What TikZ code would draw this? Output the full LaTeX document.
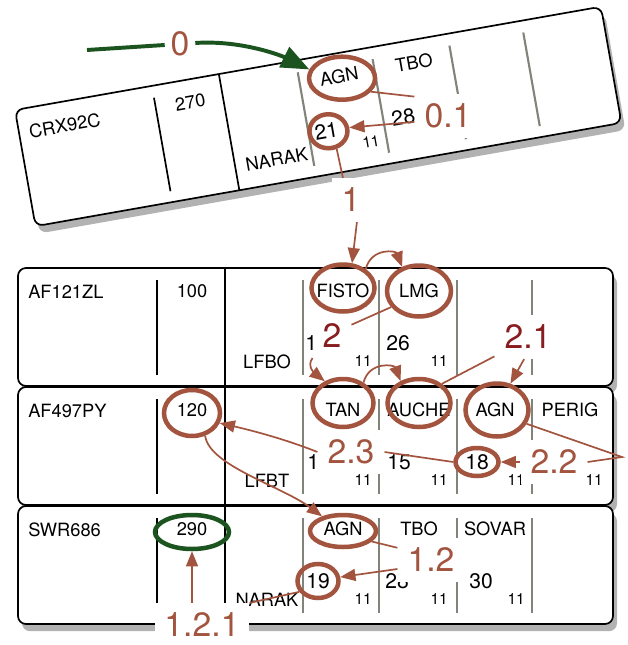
\documentclass[tikz,border=0pt]{standalone}
\usepackage{fontspec}
\setmainfont{TeX Gyre Heros}
\usetikzlibrary{shapes.geometric,arrows.meta,shadows}

\definecolor{ringbrown}{RGB}{163,84,62}
\definecolor{darklabel}{RGB}{136,28,30}
\definecolor{stripgreen}{RGB}{28,84,32}
\definecolor{wptgray}{RGB}{128,132,122}

\tikzset{
  stripframe/.style={draw=black, line width=1.2pt, fill=white, rounded corners=0.2cm,
    drop shadow={shadow xshift=0.1cm, shadow yshift=-0.18cm, opacity=0.3, fill=black}},
  colline/.style={draw=black, line width=1.2pt},
  wptline/.style={draw=wptgray, line width=1.5pt},
  pics/strip/.style={code={
    \draw[stripframe] (0,0) rectangle (595,118);
    \draw[colline] (139,12) -- (139,107);
    \draw[colline] (207,0) -- (207,118);
    \draw[wptline] (285,12) -- (285,107);
    \draw[wptline] (361,12) -- (361,107);
    \draw[wptline] (439,12) -- (439,107);
    \draw[wptline] (514,12) -- (514,107);
  }},
  callsign/.style={anchor=west, inner sep=0pt, font=\fontsize{13}{13}\selectfont},
  txt/.style={inner sep=0pt, font=\fontsize{13}{13}\selectfont},
  num/.style={anchor=west, inner sep=0pt, font=\fontsize{15}{15}\selectfont},
  smallnum/.style={anchor=east, inner sep=0pt, font=\fontsize{11}{11}\selectfont},
  ring/.style 2 args={ellipse, draw=ringbrown, line width=3.2pt, inner sep=0pt,
    minimum width=#1*0.025cm, minimum height=#2*0.025cm},
  steplabel/.style={fill=white, text=ringbrown, inner sep=7pt, font=\fontsize{24}{24}\selectfont},
  conn/.style={draw=ringbrown, line width=1.2pt},
  arr/.style={conn, -{Triangle[length=0.38cm, width=0.3cm]}},
  greenarrow/.style={draw=stripgreen, line width=2.8pt},
}

\begin{document}
\begin{tikzpicture}[x=0.025cm, y=-0.025cm]
\path[use as bounding box, fill=white] (0,0) rectangle (628,645);

\begin{scope}[shift={(15,110)}, rotate=10, transform shape]
\pic {strip};
\node[callsign] (crx) at (10,24) {CRX92C};
\node[txt] (lvl0) at (174,23) {270};
\node[txt] (exit0) at (249,94) {NARAK};
\node[txt] (agn0) at (325,23) {AGN};
\node[txt] (tbo0) at (401,23) {TBO};
\node[num] (t21) at (291,75) {21};
\node[num] (t28) at (369,75) {28};
\node[smallnum] (e0) at (354,93) {11};
\end{scope}

\begin{scope}[shift={(18,268)}]
\pic {strip};
\node[callsign] (af121) at (10,24) {AF121ZL};
\node[txt] (lvl1) at (174,23) {100};
\node[txt] (exit1) at (249,94) {LFBO};
\node[txt] (fisto) at (325,23) {FISTO};
\node[txt] (lmg) at (401,23) {LMG};
\node[num] (n1a) at (287,75) {1};
\node[num] (n26) at (368,75) {26};
\node[smallnum] (s1a) at (354,93) {11};
\node[smallnum] (s1b) at (430,93) {11};
\end{scope}

\begin{scope}[shift={(18,387)}]
\pic {strip};
\node[callsign] (af497) at (10,24) {AF497PY};
\node[txt] (lvl2) at (174,23) {120};
\node[txt] (exit2) at (249,94) {LFBT};
\node[txt] (tan) at (325,23) {TAN};
\node[txt] (auche) at (401,23) {AUCHE};
\node[txt] (agn2) at (477,23) {AGN};
\node[txt] (perig) at (552,23) {PERIG};
\node[num] (n2a) at (289,75) {1};
\node[num] (n15) at (369,75) {15};
\node[num] (n18) at (447,75) {18};
\node[smallnum] (s2a) at (354,93) {11};
\node[smallnum] (s2b) at (430,93) {11};
\node[smallnum] (s2c) at (507,93) {11};
\node[smallnum] (s2d) at (585,93) {11};
\end{scope}

\begin{scope}[shift={(18,506)}]
\pic {strip};
\node[callsign] (swr) at (10,24) {SWR686};
\node[txt] (lvl3) at (174,23) {290};
\node[txt] (exit3) at (249,94) {NARAK};
\node[txt] (agn3) at (325,23) {AGN};
\node[txt] (tbo3) at (401,23) {TBO};
\node[txt] (sovar) at (477,23) {SOVAR};
\node[num] (n19) at (288,75) {19};
\node[num] (n28) at (367,75) {28};
\node[num] (n30) at (451,75) {30};
\node[smallnum] (s3a) at (354,93) {11};
\node[smallnum] (s3b) at (430,93) {11};
\node[smallnum] (s3c) at (507,93) {11};
\end{scope}

\node[steplabel, inner sep=4pt] (l0) at (180,44) {0};
\node[steplabel] (l01) at (448,116) {0.1};
\node[steplabel] (l1) at (351,200) {1};
\node[steplabel, text=darklabel] (l2) at (332,336) {2};
\node[steplabel, text=darklabel] (l21) at (528,337) {2.1};
\node[steplabel] (l22) at (554,462) {2.2};
\node[steplabel] (l23) at (351,452) {2.3};
\node[steplabel] (l12) at (431,560) {1.2};
\node[steplabel] (l121) at (202,625) {1.2.1};

\node[ring={66}{43}] (ragn0) at ([xshift=0.075cm,yshift=-0.05cm]agn0) {};
\node[ring={38}{34}] (r21) at ([xshift=0.05cm]t21) {};
\node[ring={63}{47}] (rfisto) at ([yshift=0.075cm]fisto) {};
\node[ring={64}{51}] (rlmg) at (lmg) {};
\node[ring={61}{48}] (rtan) at ([yshift=0.175cm]tan) {};
\node[ring={63}{48}] (rauche) at ([yshift=0.175cm]auche) {};
\node[ring={63}{53}] (ragn2) at ([xshift=0.05cm]agn2) {};
\node[ring={43}{28}] (r18) at (n18) {};
\node[ring={56}{46}] (r120) at ([yshift=-0.075cm]lvl2) {};
\node[ring={66}{32}] (ragn3) at ([yshift=-0.05cm]agn3) {};
\node[ring={41}{34}] (r19) at (n19) {};
\node[ring={74}{34}, draw=stripgreen] (r290) at ([yshift=-0.075cm]lvl3) {};

\coordinate (g0) at (87,50);
\coordinate (c22) at (622,457);

\draw[greenarrow] (g0) -- (l0);
\draw[greenarrow, -{Triangle[length=0.7cm, width=0.55cm]}] (l0) .. controls (240,40) and (280,55) .. (ragn0.165);

\draw[conn] (ragn0.-25) -- (l01.150);
\draw[arr] (l01.190) -- (r21.10);
\draw[conn] (r21.-65) -- (l1.110);
\draw[arr] (l1.-75) -- (rfisto.70);
\draw[arr] (rfisto.40) .. controls +(6,-22) and +(-6,-16) .. (rlmg.125);
\draw[conn] (rlmg.210) -- (l2.30);
\draw[arr] (l2.south west) .. controls +(-6,8) and +(-10,-8) .. (rtan.130);
\draw[arr] (rtan.45) .. controls +(6,-22) and +(-6,-16) .. (rauche.130);
\draw[conn] (rauche.40) -- (l21.210);
\draw[arr] (l21.-100) -- (ragn2.63);
\draw[conn] (ragn2.-25) -- (c22) -- (l22.east);
\draw[arr] (l22.west) -- (r18.east);
\draw[conn] (r18.west) -- (l23.east);
\draw[arr] (l23.west) .. controls +(-30,-12) and +(35,8) .. (r120.-20);
\draw[arr] (r120.-60) .. controls +(4,30) and +(-40,-30) .. (ragn3.145);
\draw[conn] (ragn3.-20) -- (l12.160);
\draw[arr] (l12.195) -- (r19.10);
\draw[conn] (r19.-150) -- (l121.north east);
\draw[arr] (l121.north -| r290.south) -- (r290.south);
\end{tikzpicture}
\end{document}
